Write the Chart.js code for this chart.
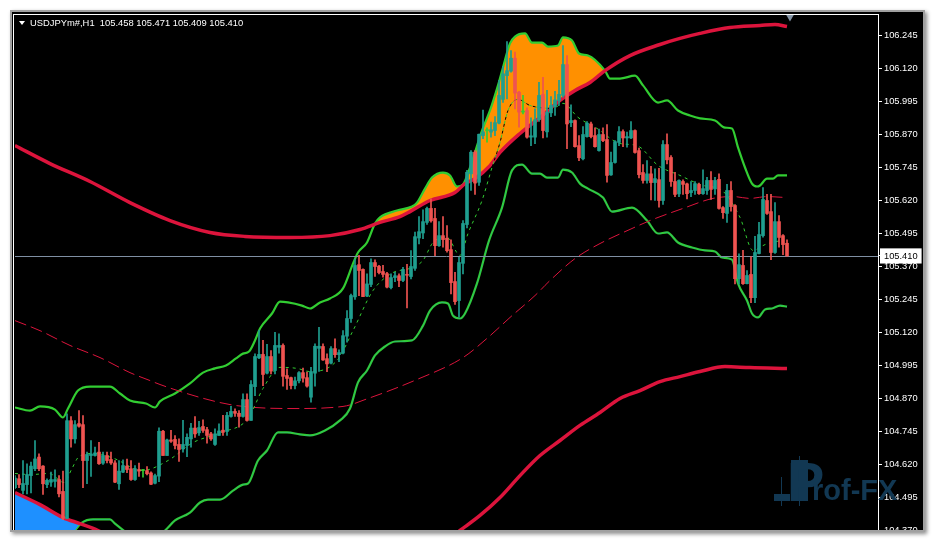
<!DOCTYPE html>
<html>
<head>
<meta charset="utf-8">
<title>USDJPYm#,H1</title>
<script src="https://cdn.jsdelivr.net/npm/chart.js@4/dist/chart.umd.min.js"></script>
<style>
  html, body { margin: 0; padding: 0; background: #fff; overflow: hidden; }
  #frame { position: absolute; left: 12px; top: 12px; width: 911px; height: 518px; background: #000;
    box-shadow: 0 0 0 2px #a0a0a0, 2px 2px 4px 2px #8c8c8c; }
  #inner { position: absolute; left: 13px; top: 14px; width: 866px; height: 516px;
    border-left: 1px solid #fff; border-top: 1px solid #fff; box-sizing: border-box; }
  #chart { position: absolute; left: 0; top: 0; }
  #header { position: absolute; left: 30px; top: 16px; color: #fff; white-space: pre;
    font: 9.4px/13px "Liberation Sans", sans-serif; }
  #arrow { position: absolute; left: 19px; top: 21px; width: 0; height: 0;
    border-left: 3.5px solid transparent; border-right: 3.5px solid transparent; border-top: 4px solid #fff; }
</style>
</head>
<body>
<div id="frame"></div>
<div id="inner"></div>
<canvas id="chart" width="936" height="541"></canvas>
<div id="arrow"></div>
<div id="header">USDJPYm#,H1  105.458 105.471 105.409 105.410</div>
<script>
const opens = [104.532,104.566,104.522,104.544,104.578,104.604,104.648,104.614,104.544,104.553,104.556,104.563,104.518,104.416,104.786,104.717,104.775,104.771,104.635,104.654,104.654,104.667,104.625,104.654,104.639,104.626,104.547,104.591,104.614,104.604,104.563,104.601,104.597,
  104.597,104.588,104.549,104.576,104.746,104.654,104.713,104.715,104.696,104.679,104.692,104.717,104.758,104.740,104.764,104.752,104.736,104.696,104.730,104.750,104.745,104.802,104.821,104.814,104.802,104.866,104.787,104.915,105.024,105.037,104.966,105.029,104.976,
  105.064,105.071,104.957,104.949,104.919,104.937,104.968,104.949,104.875,104.966,105.060,105.067,105.021,105.004,105.059,105.036,105.042,105.106,105.173,105.255,105.377,105.359,105.258,105.302,105.385,105.371,105.351,105.343,105.290,105.328,105.335,105.317,105.340,
  105.332,105.363,105.478,105.497,105.537,105.590,105.552,105.449,105.487,105.477,105.434,105.313,105.241,105.382,105.529,105.721,105.803,105.689,105.866,105.884,105.879,105.885,105.913,106.003,106.093,106.110,106.159,106.030,105.955,105.961,105.860,105.860,105.926,
  106.022,105.880,105.952,105.976,105.999,106.018,106.135,105.915,105.923,105.828,105.778,105.862,105.910,105.866,105.809,105.870,105.851,105.717,105.764,105.840,105.881,105.857,105.857,105.885,105.809,105.726,105.696,105.721,105.688,105.699,
  105.620,105.832,105.783,105.692,105.645,105.692,105.683,105.650,105.658,105.681,105.646,105.658,105.696,105.664,105.700,105.593,105.571,105.658,105.601,105.324,105.374,105.305,105.340,105.252,105.419,105.487,105.620,105.578,105.423,105.540,105.487,105.458];
const closes = [104.569,104.544,104.548,104.582,104.614,104.641,104.604,104.547,104.560,104.563,104.563,104.509,104.416,104.786,104.717,104.771,104.765,104.635,104.658,104.660,104.664,104.623,104.654,104.635,104.626,104.553,104.595,104.616,104.601,104.563,104.604,104.595,104.597,
  104.585,104.545,104.578,104.746,104.654,104.713,104.708,104.692,104.677,104.696,104.723,104.758,104.736,104.760,104.749,104.730,104.717,104.736,104.747,104.742,104.806,104.821,104.814,104.802,104.866,104.787,104.923,105.029,105.037,104.961,105.029,104.974,105.071,
  105.071,104.954,104.946,104.919,104.937,104.968,104.947,104.917,104.972,105.068,105.068,105.016,105.001,105.059,105.036,105.044,105.108,105.173,105.260,105.374,105.355,105.256,105.304,105.385,105.370,105.347,105.340,105.292,105.328,105.335,105.317,105.359,105.337,
  105.370,105.483,105.502,105.540,105.590,105.543,105.449,105.487,105.472,105.430,105.309,105.237,105.385,105.533,105.727,105.803,105.686,105.871,105.880,105.884,105.888,105.915,106.018,106.100,106.112,106.159,106.027,105.955,105.955,105.860,105.865,105.926,106.018,
  105.885,105.955,105.980,106.001,106.022,106.135,105.910,105.923,105.824,105.782,105.870,105.913,105.862,105.824,105.870,105.847,105.715,105.764,105.843,105.881,105.857,105.862,105.885,105.802,105.718,105.696,105.721,105.688,105.703,105.620,
  105.832,105.774,105.692,105.643,105.696,105.681,105.646,105.658,105.684,105.646,105.665,105.696,105.662,105.696,105.590,105.574,105.658,105.597,105.324,105.377,105.305,105.336,105.252,105.423,105.491,105.624,105.571,105.423,105.540,105.480,105.453,105.410];
const highs = [104.578,104.582,104.635,104.623,104.629,104.711,104.660,104.616,104.566,104.591,104.600,104.578,104.595,104.812,104.802,104.786,104.824,104.805,104.667,104.711,104.686,104.704,104.667,104.667,104.667,104.635,104.635,104.638,104.641,104.635,104.616,104.625,104.601,
  104.612,104.592,104.584,104.759,104.749,104.716,104.749,104.730,104.717,104.787,104.736,104.776,104.802,104.784,104.789,104.761,104.742,104.755,104.774,104.806,104.818,104.840,104.831,104.824,104.888,104.888,104.938,105.039,105.128,105.090,105.075,105.052,105.121,
  105.115,105.077,104.982,104.951,104.951,104.972,104.985,104.970,104.988,105.077,105.140,105.077,105.039,105.067,105.096,105.054,105.127,105.203,105.266,105.399,105.412,105.361,105.342,105.399,105.395,105.374,105.374,105.348,105.342,105.348,105.342,105.367,105.378,
  105.430,105.500,105.559,105.585,105.595,105.626,105.590,105.540,105.559,105.525,105.471,105.348,105.405,105.544,105.734,105.809,105.809,105.872,105.963,105.895,105.917,105.938,106.075,106.128,106.222,106.188,106.182,106.034,106.018,105.971,105.933,105.967,106.068,
  106.087,106.037,106.014,106.034,106.075,106.207,106.169,105.982,105.926,105.866,105.900,105.919,105.917,105.895,105.891,105.895,105.908,105.803,105.847,105.900,105.888,105.879,105.919,105.888,105.819,105.756,105.771,105.749,105.740,105.742,
  105.847,105.873,105.790,105.727,105.698,105.698,105.686,105.692,105.692,105.686,105.736,105.708,105.730,105.708,105.721,105.597,105.681,105.692,105.605,105.418,105.431,105.355,105.408,105.484,105.537,105.669,105.643,105.643,105.612,105.563,105.491,105.471];
const lows = [104.528,104.532,104.509,104.509,104.512,104.597,104.597,104.507,104.532,104.537,104.534,104.497,104.411,104.415,104.686,104.701,104.761,104.532,104.547,104.575,104.652,104.620,104.620,104.626,104.620,104.551,104.526,104.589,104.589,104.560,104.560,104.575,104.572,
  104.581,104.544,104.546,104.555,104.654,104.654,104.704,104.679,104.632,104.667,104.650,104.686,104.723,104.730,104.742,104.701,104.711,104.692,104.730,104.730,104.730,104.799,104.802,104.761,104.799,104.784,104.787,104.881,105.021,104.919,104.963,104.963,104.963,
  105.042,104.917,104.904,104.906,104.906,104.929,104.932,104.913,104.856,104.917,104.973,105.014,104.972,105.001,105.026,105.010,105.039,105.083,105.158,105.245,105.260,105.256,105.256,105.294,105.332,105.342,105.330,105.289,105.285,105.313,105.294,105.313,105.213,
  105.323,105.355,105.456,105.475,105.529,105.538,105.411,105.446,105.443,105.424,105.266,105.226,105.178,105.342,105.516,105.658,105.643,105.677,105.854,105.841,105.860,105.866,105.910,105.992,106.005,106.106,105.967,105.898,105.948,105.856,105.828,105.835,105.920,
  105.857,105.860,105.938,105.942,105.980,106.011,105.816,105.900,105.822,105.771,105.774,105.860,105.857,105.822,105.807,105.843,105.689,105.715,105.761,105.828,105.824,105.822,105.854,105.799,105.706,105.686,105.686,105.622,105.620,105.595,
  105.605,105.759,105.673,105.635,105.635,105.643,105.626,105.635,105.643,105.643,105.643,105.643,105.624,105.643,105.587,105.552,105.537,105.580,105.304,105.304,105.302,105.304,105.233,105.233,105.418,105.481,105.567,105.396,105.420,105.443,105.415,105.409];

const upperRedBars = [0,8.75,18.75,28.75,38.75,48.75,57.5,68.75,78.75,86.25,91.25,96.25,98.75,103.75,110,112.5,115,118.75,121.25,126.25,131.25,136.25,140,143.75,147.5,153.75,161.25,166.25,171.25,178.75,186.25,190,193];
const upperRedValues = [105.828,105.760,105.692,105.612,105.544,105.499,105.484,105.480,105.487,105.510,105.537,105.559,105.578,105.620,105.650,105.684,105.703,105.752,105.802,105.874,105.934,105.999,106.037,106.067,106.112,106.169,106.211,106.234,106.253,106.275,106.283,106.287,106.279];
const lowerRedBars = [0,6.25,12,16.25,20.75,27.5,46.25,66,96.25,106.25,111.25,116.25,121.25,126.25,131.25,136.25,141.25,146.25,151.25,156.25,161.25,166.25,171.25,177.5,183.75,193];
const lowerRedValues = [104.514,104.468,104.419,104.396,104.370,104.313,104.143,104.067,104.200,104.313,104.370,104.427,104.495,104.578,104.654,104.711,104.768,104.817,104.870,104.900,104.934,104.953,104.972,104.991,104.987,104.984];
const upperBandBars = [0,3.75,6.25,10,12,13.25,15.75,18.75,23.75,26.25,28.75,32.75,35,36.25,40,43.75,47,50,52.75,55.25,57,58.5,60,61.25,64.25,66.25,68.25,71.75,73.75,76.25,78.75,82,84.5,85.75,88,90,91.25,95.5,99.25,100.5,102.5,104.25,107,108.75,110.5,112,113.75,114.5,116.75,118.75,120.75,122,123.75,125,127.5,129.25,131.75,133.25,135.75,137,139.25,141,143.25,147.5,148.75,151.25,155,157,160.75,163,165.75,168.75,171.25,175,177.5,179.25,180.75,182.5,184.25,185.5,186.25,188,189.5,190.75,193];
const upperBandValues = [104.836,104.824,104.840,104.828,104.798,104.832,104.900,104.915,104.915,104.889,104.862,104.851,104.836,104.859,104.889,104.927,104.968,104.984,104.995,105.022,105.040,105.048,105.090,105.135,105.192,105.237,105.234,105.222,105.211,105.234,105.249,105.287,105.381,105.423,105.461,105.533,105.556,105.582,105.597,105.612,105.665,105.707,105.726,105.715,105.673,105.681,105.745,105.779,105.885,105.961,106.056,106.124,106.215,106.241,106.253,106.218,106.218,106.203,106.207,106.238,106.226,106.177,106.169,106.112,106.082,106.082,106.093,106.056,105.991,105.999,105.961,105.942,105.931,105.923,105.896,105.893,105.821,105.745,105.684,105.673,105.677,105.703,105.703,105.715,105.715];
const lowerBandBars = [0,11.25,15,16.75,19.5,23.75,25,27.5,32.5,37.5,40,43.75,46.25,48.25,51.25,54.5,57,58.25,60.75,63,65.75,68,71.25,73.75,77.5,81.25,83.75,85.75,88,90,92.5,95,99.25,102,103.75,106.75,108.25,109.5,111.25,112.5,115.5,118.5,121.75,124.25,126.75,129.25,131.25,133,135.75,137,139.25,141.25,143.25,147,149.25,154.25,158,160.75,163,165.75,169.25,172.5,175,176.75,179.25,180.75,183,184.25,185.75,187.5,189.25,191.25,193];
const lowerBandValues = [104.029,104.271,104.370,104.400,104.412,104.412,104.396,104.366,104.313,104.370,104.408,104.438,104.476,104.487,104.487,104.521,104.544,104.548,104.635,104.673,104.742,104.742,104.734,104.730,104.749,104.787,104.832,104.931,104.976,105.033,105.067,105.086,105.090,105.146,105.203,105.234,105.230,105.184,105.173,105.192,105.306,105.468,105.593,105.734,105.756,105.722,105.722,105.707,105.707,105.737,105.726,105.684,105.665,105.631,105.578,105.593,105.544,105.495,105.499,105.461,105.442,105.431,105.427,105.404,105.396,105.306,105.241,105.192,105.177,105.207,105.211,105.222,105.218];
const centerBars = [0,6.25,13.75,21.25,28.75,33.75,36.25,46.25,53.75,60,69.5,82,88.25,100.5,112,118.25,123.75,130,133.75,140,146.25,154.25,158.75,167,174.5,179.5,183.75,188,193];
const centerValues = [105.165,105.127,105.071,105.025,104.968,104.938,104.923,104.874,104.847,104.836,104.832,104.840,104.870,104.942,105.025,105.101,105.177,105.260,105.317,105.400,105.457,105.514,105.544,105.590,105.628,105.635,105.628,105.635,105.631];
const maBars = [0,4,8.5,12.25,14.25,16,19.75,24.75,31.75,38.25,44.5,51.5,58.25,62,66.25,70.5,73.75,80.5,84.5,89.5,94.5,98.75,102,104.5,108,111.25,113.25,116.75,119.25,121.25,123.25,125.75,128.75,134.5,137,140.75,145.5,151.25,155.5,160.75,166.25,172,176.75,181.25,184.5,187.5,191.25];
const maValues = [104.586,104.582,104.586,104.552,104.605,104.650,104.662,104.643,104.597,104.635,104.703,104.741,104.794,104.908,104.988,104.984,104.972,105.014,105.127,105.279,105.347,105.363,105.393,105.461,105.480,105.412,105.495,105.620,105.745,105.840,105.961,106.003,105.980,105.969,105.988,105.935,105.893,105.836,105.828,105.753,105.715,105.677,105.658,105.556,105.431,105.453,105.468];

const lastPrice = 105.410;
const lastLineLevel = 105.4079;
const tickValues = [106.245,106.120,105.995,105.870,105.745,105.620,105.495,105.410,105.370,105.245,105.120,104.995,104.870,104.745,104.620,104.495,104.370];

const UP = "#1f9e8f";
const DOWN = "#ef5350";
const DOJI = "#32cd32";
const GREEN = "#32cd32";
const CRIMSON = "#dc143c";
const MARK = "#123853";

function points(xs, ys) {
  return xs.map((x, i) => ({ x, y: ys[i] }));
}

const barColors = opens.map((o, i) => (closes[i] === o ? DOJI : closes[i] > o ? UP : DOWN));
const bodies = opens.map((o, i) => ({ x: i, y: [Math.min(o, closes[i]), Math.max(o, closes[i]) + (o === closes[i] ? 0.004 : 0)] }));
const wicks = opens.map((o, i) => ({ x: i, y: [lows[i], highs[i]] }));

function lineSet(label, xs, ys, color, width, order, extra) {
  return Object.assign({
    type: "line", label, data: points(xs, ys), borderColor: color, borderWidth: width,
    pointRadius: 0, cubicInterpolationMode: "monotone", fill: false, order, borderJoinStyle: "round",
  }, extra || {});
}

// 透かし：小さなローソクと Prof-FX の文字
const watermark = {
  id: "watermark",
  beforeDatasetsDraw(chart) {
    const ctx = chart.ctx;
    ctx.save();
    ctx.fillStyle = MARK;
    ctx.fillRect(774, 494, 16, 7);
    ctx.fillRect(781, 477, 1, 29);
    ctx.fillRect(799, 456, 1, 50);
    ctx.fillRect(791, 460, 17, 41);
    ctx.font = 'bold 56px "Liberation Sans"';
    ctx.textBaseline = "alphabetic";
    ctx.fillText("P", 787, 501);
    ctx.font = 'bold 29px "Liberation Sans"';
    ctx.fillText("rof-FX", 812, 500);
    ctx.restore();
  },
  afterDraw(chart) {
    // 最下段の目盛ラベルはチャート枠で切れる
    chart.ctx.clearRect(0, 530, chart.width, chart.height - 530);
  },
};

new Chart(document.getElementById("chart"), {
  type: "bar",
  data: {
    datasets: [
      { label: "Body", data: bodies, backgroundColor: barColors, barThickness: 3, grouped: false, order: 1 },
      { label: "Wick", data: wicks, backgroundColor: barColors, barThickness: 1, grouped: false, order: 2 },
      lineSet("Last", [0, 215.75], [lastLineLevel, lastLineLevel], "#7f8fa3", 1, 3),
      lineSet("MA", maBars, maValues, GREEN, 1, 4, { borderDash: [3, 4] }),
      lineSet("MA gap", maBars, maValues, "#000", 1, 5, { borderDash: [3, 4], borderDashOffset: 3 }),
      lineSet("Center", centerBars, centerValues, CRIMSON, 1, 6, { borderDash: [12, 5] }),
      lineSet("Upper envelope", upperRedBars, upperRedValues, CRIMSON, 3.5, 7),
      lineSet("Lower envelope", lowerRedBars, lowerRedValues, CRIMSON, 3.5, 7,
        { fill: { target: 8, above: "#1e90ff", below: "transparent" } }),
      lineSet("Lower band", lowerBandBars, lowerBandValues, GREEN, 2.2, 8),
      lineSet("Upper band", upperBandBars, upperBandValues, GREEN, 2.2, 8,
        { fill: { target: 6, above: "#ff9000", below: "transparent" } }),
      { type: "line", label: "Shift", data: [{ x: 193.75, y: 106.319 }], showLine: false, pointStyle: "triangle",
        pointRotation: 180, pointRadius: 5.5, pointBackgroundColor: "#8494a6", pointBorderWidth: 0, order: 3 },
    ],
  },
  options: {
    responsive: false,
    animation: false,
    devicePixelRatio: 1,
    layout: { padding: { left: 15, top: 15, right: 13, bottom: 11 } },
    plugins: { legend: { display: false }, title: { display: false }, tooltip: { enabled: false } },
    scales: {
      x: { type: "linear", min: 0, max: 215.75, display: false, offset: false },
      y: {
        position: "right",
        min: 104.3719,
        max: 106.3227,
        afterFit: (scale) => { scale.width = 45; },
        afterBuildTicks: (scale) => { scale.ticks = tickValues.map((value) => ({ value })); },
        border: { color: "#fff", width: 1 },
        grid: { drawOnChartArea: false, color: "#fff", tickLength: 4 },
        ticks: {
          autoSkip: false,
          maxRotation: 0,
          crossAlign: "near",
          padding: 2,
          font: { family: "Liberation Sans", size: 9.3 },
          color: (ctx) => (ctx.tick && ctx.tick.value === lastPrice ? "#000" : "#fff"),
          showLabelBackdrop: (ctx) => ctx.tick && ctx.tick.value === lastPrice,
          backdropColor: "#fff",
          backdropPadding: { left: 4, right: 4, top: 2, bottom: 2 },
          callback: (value) => Number(value).toFixed(3),
        },
      },
    },
  },
  plugins: [watermark],
});
</script>
</body>
</html>
